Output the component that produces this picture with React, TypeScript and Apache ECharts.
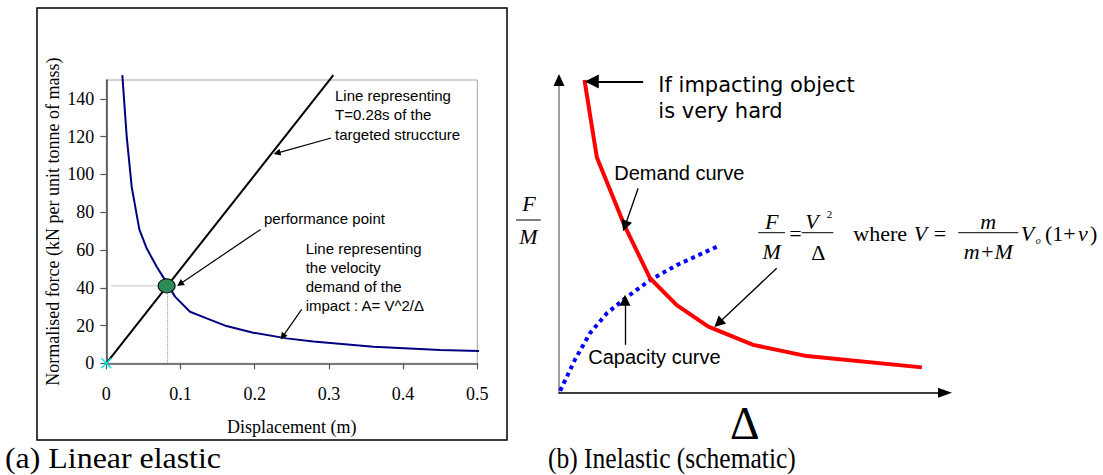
import React, { useEffect, useRef } from "react";
import * as echarts from "echarts";

// ---------- (a) Linear elastic ----------
const dispTicks = [0, 0.1, 0.2, 0.3, 0.4, 0.5];
const forceTicks = [0, 20, 40, 60, 80, 100, 120, 140];
const periodLine = [[0, 0], [0.306, 152.6]];
const velocityDemand = [
  [0.0216, 152.6], [0.0275, 120], [0.0342, 93.5], [0.0445, 70.9], [0.0544, 60.9],
  [0.0679, 51.1], [0.0814, 42.7], [0.0926, 35.3], [0.1128, 27.3], [0.1353, 23.8],
  [0.162, 19.7], [0.198, 16.2], [0.243, 13.2], [0.279, 11.5], [0.36, 8.8],
  [0.45, 7.1], [0.509, 6.5],
];
const performancePoint = [[0.0813, 41]];
const perfGuideH = [[0.007, 41], [0.0813, 41]];
const perfGuideV = [[0.0827, 41], [0.0827, 0]];
const originMark = [[0, 0]];
const leftArrows = [
  [[0.303, 119.3], [0.23, 111.3]],
  [[0.208, 70.9], [0.0993, 42.0]],
  [[0.2633, 28.6], [0.2377, 14.1]],
];

// ---------- (b) Inelastic (schematic) ----------
const demandCurve = [
  [6.6, 100.0], [9.8, 75.3], [17.1, 53.1], [23.6, 36.6], [30.5, 28.0],
  [38.7, 21.1], [50.3, 15.3], [64.2, 11.7], [94.0, 8.1],
];
const capacityCurve = [
  [0.3, 0.6], [4.1, 10.5], [8.0, 19.0], [12.4, 25.4], [17.5, 30.5],
  [23.6, 36.0], [30.5, 40.8], [41.3, 46.9],
];
const hardArrow = [[[21.8, 99.5], [8.5, 99.5]]];
const rightArrows = [
  [[20.5, 65.4], [17.1, 53.3]],
  [[17.1, 15.3], [17.1, 29.6]],
  [[56.4, 39.8], [41.3, 22.2]],
];

const ARROW = "path://M5,0L10,12L0,12Z";
const SERIF = '"Liberation Serif", "Times New Roman", serif';
const SANS = '"Liberation Sans", Arial, sans-serif';

function txt(x: number, y: number, text: string, font: string, extra: any = {}) {
  return {
    type: "text",
    x,
    y,
    z: 10,
    ...extra,
    style: {
      text,
      font,
      fill: "#000",
      align: extra.align || "left",
      verticalAlign: extra.verticalAlign || "middle",
      lineHeight: extra.lineHeight,
    },
  };
}

function hline(x1: number, x2: number, y: number) {
  return { type: "line", z: 10, shape: { x1, y1: y, x2, y2: y }, style: { stroke: "#000", lineWidth: 1 } };
}

export default function App() {
  const ref = useRef<HTMLDivElement>(null);
  useEffect(() => {
    if (!ref.current) return;
    const chart = echarts.init(ref.current, undefined, { renderer: "svg" });
    const fi = `italic 22px ${SERIF}`;
    const fr = `22px ${SERIF}`;
    chart.setOption({
      animation: false,
      backgroundColor: "#fff",
      grid: [
        { left: 106.3, top: 80, width: 371, height: 283.3, show: true, borderColor: "#a6a6a6", borderWidth: 1 },
        { left: 559, top: 80, width: 386, height: 312.7 },
      ],
      xAxis: [
        {
          gridIndex: 0, type: "value", min: 0, max: 0.5, interval: 0.1,
          name: "Displacement (m)", nameLocation: "middle", nameGap: 55,
          nameTextStyle: { fontFamily: SERIF, fontSize: 18, color: "#000" },
          axisLine: { lineStyle: { color: "#7a7a7a", width: 2 } },
          axisTick: { show: true, length: 6, lineStyle: { color: "#555", width: 1.2 } },
          axisLabel: { fontFamily: SERIF, fontSize: 18, color: "#000", margin: 22, customValues: dispTicks },
          splitLine: { show: false },
        },
        {
          gridIndex: 1, type: "value", min: 0, max: 100,
          axisLine: { lineStyle: { color: "#000", width: 1.5 }, symbol: ["none", "triangle"], symbolSize: [10, 14] },
          axisTick: { show: false }, axisLabel: { show: false }, splitLine: { show: false },
        },
      ],
      yAxis: [
        {
          gridIndex: 0, type: "value", min: 0, max: 150,
          name: "Normalised force (kN per unit tonne of mass)", nameLocation: "middle", nameGap: 44,
          nameTextStyle: { fontFamily: SERIF, fontSize: 18, color: "#000" },
          axisLine: { show: true, lineStyle: { color: "#404040", width: 1.5 } },
          axisTick: { show: true, length: 6, lineStyle: { color: "#555", width: 1.2 }, customValues: forceTicks },
          axisLabel: { fontFamily: SERIF, fontSize: 18, color: "#000", margin: 12, customValues: forceTicks },
          splitLine: { show: false },
        },
        {
          gridIndex: 1, type: "value", min: 0, max: 100,
          axisLine: { show: true, lineStyle: { color: "#808080", width: 1.5 } },
          axisTick: { show: false }, axisLabel: { show: false }, splitLine: { show: false },
        },
      ],
      series: [
        {
          type: "line", xAxisIndex: 0, yAxisIndex: 0, data: perfGuideH, symbol: "none", clip: false,
          lineStyle: { color: "#8c8c8c", width: 1, type: "dotted" }, z: 2,
        },
        {
          type: "line", xAxisIndex: 0, yAxisIndex: 0, data: perfGuideV, symbol: "none", clip: false,
          lineStyle: { color: "#8c8c8c", width: 1, type: "dotted" }, z: 2,
        },
        {
          type: "line", xAxisIndex: 0, yAxisIndex: 0, data: periodLine, symbol: "none", clip: false,
          lineStyle: { color: "#000", width: 2 }, z: 3,
        },
        {
          type: "line", xAxisIndex: 0, yAxisIndex: 0, data: velocityDemand, symbol: "none", clip: false,
          lineStyle: { color: "#000080", width: 2 }, z: 3,
        },
        {
          type: "scatter", xAxisIndex: 0, yAxisIndex: 0, data: performancePoint, symbol: "circle",
          symbolSize: [17, 14], clip: false,
          itemStyle: { color: "#2e8b57", borderColor: "#000", borderWidth: 1, opacity: 1 }, z: 5,
        },
        {
          type: "scatter", xAxisIndex: 0, yAxisIndex: 0, data: originMark,
          symbol: "path://M0,0L10,10M10,0L0,10", symbolSize: 10, clip: false,
          itemStyle: { color: "transparent", borderColor: "#00e5ee", borderWidth: 1.5, opacity: 1 }, z: 6,
        },
        {
          type: "lines", coordinateSystem: "cartesian2d", xAxisIndex: 0, yAxisIndex: 0,
          data: leftArrows.map((c) => ({ coords: c })),
          symbol: ["none", ARROW], symbolSize: [1, 7], clip: false,
          lineStyle: { color: "#000", width: 1.2, opacity: 1 }, z: 4,
        },
        {
          type: "line", xAxisIndex: 1, yAxisIndex: 1, data: capacityCurve, symbol: "none", clip: false,
          lineStyle: { color: "#0000ff", width: 4, type: [4, 4], cap: "butt" }, z: 3,
        },
        {
          type: "line", xAxisIndex: 1, yAxisIndex: 1, data: demandCurve, symbol: "none", clip: false,
          lineStyle: { color: "#ff0000", width: 4 }, z: 4,
        },
        {
          type: "lines", coordinateSystem: "cartesian2d", xAxisIndex: 1, yAxisIndex: 1,
          data: rightArrows.map((c) => ({ coords: c })),
          symbol: ["none", ARROW], symbolSize: [1, 11], clip: false,
          lineStyle: { color: "#000", width: 1.3, opacity: 1 }, z: 5,
        },
        {
          type: "lines", coordinateSystem: "cartesian2d", xAxisIndex: 1, yAxisIndex: 1,
          data: hardArrow.map((c) => ({ coords: c })),
          symbol: ["none", ARROW], symbolSize: [1, 14], clip: false,
          lineStyle: { color: "#000", width: 2, opacity: 1 }, z: 5,
        },
      ],
      graphic: [
        { type: "rect", z: 1, shape: { x: 37, y: 8, width: 470, height: 432 }, style: { fill: "none", stroke: "#000", lineWidth: 1.5 } },
        { type: "polygon", z: 10, shape: { points: [[559, 74], [553.5, 86], [564.5, 86]] }, style: { fill: "#000" } },
        // left annotations
        txt(335, 85.3, "Line representing\nT=0.28s of the\ntargeted struccture", `15px ${SANS}`, { verticalAlign: "top", lineHeight: 19.5 }),
        txt(264, 218, "performance point", `15px ${SANS}`),
        txt(305.7, 238.4, "Line representing\nthe velocity\ndemand of the\nimpact : A= V^2/Δ", `15px ${SANS}`, { verticalAlign: "top", lineHeight: 19.3 }),
        // right annotations
        txt(658.3, 72.2, "If impacting object\nis very hard", `21px "DejaVu Sans", Verdana, sans-serif`, { verticalAlign: "top", lineHeight: 25.7 }),
        txt(614.3, 173.3, "Demand curve", `20px ${SANS}`),
        txt(588.3, 356.7, "Capacity curve", `20px ${SANS}`),
        // F/M axis label
        txt(529, 203.3, "F", fi, { align: "center" }),
        hline(516, 540.7, 220),
        txt(528.3, 236.7, "M", fi, { align: "center" }),
        // Delta
        txt(744.7, 423.5, "Δ", `46px ${SERIF}`, { align: "center" }),
        // formula
        txt(771.7, 221.7, "F", fi, { align: "center" }),
        hline(758.3, 785, 232.7),
        txt(771.7, 251.7, "M", fi, { align: "center" }),
        txt(795.5, 233, "=", fr, { align: "center" }),
        txt(812, 221, "V", fi, { align: "center" }),
        txt(829.5, 214, "2", `11px ${SERIF}`, { align: "center" }),
        hline(801.7, 833.3, 232.7),
        txt(818.3, 252, "Δ", fr, { align: "center" }),
        txt(853.3, 233.3, "where", fr),
        txt(920.5, 233.3, "V", fi, { align: "center" }),
        txt(940, 233.3, "=", fr, { align: "center" }),
        txt(988.3, 221.7, "m", fi, { align: "center" }),
        hline(958.3, 1018.3, 232.7),
        txt(988.3, 251.7, "m+M", fi, { align: "center" }),
        txt(1027.5, 233.3, "V", fi, { align: "center" }),
        txt(1038.3, 240, "o", `italic 10px ${SERIF}`, { align: "center" }),
        txt(1045, 233.3, "(1+", fr),
        txt(1078, 233.3, "ν", fi),
        txt(1090, 233.3, ")", fr),
        // captions
        txt(5, 458, "(a) Linear elastic", `29px ${SERIF}`, { scaleX: 1.1 }),
        txt(548, 458, "(b) Inelastic (schematic)", `29px ${SERIF}`, { scaleX: 0.88 }),
      ],
    });
    return () => chart.dispose();
  }, []);
  return (
    <div
      ref={ref}
      style={{ position: "absolute", left: 0, top: 0, width: 1103, height: 475, background: "#fff" }}
    />
  );
}
